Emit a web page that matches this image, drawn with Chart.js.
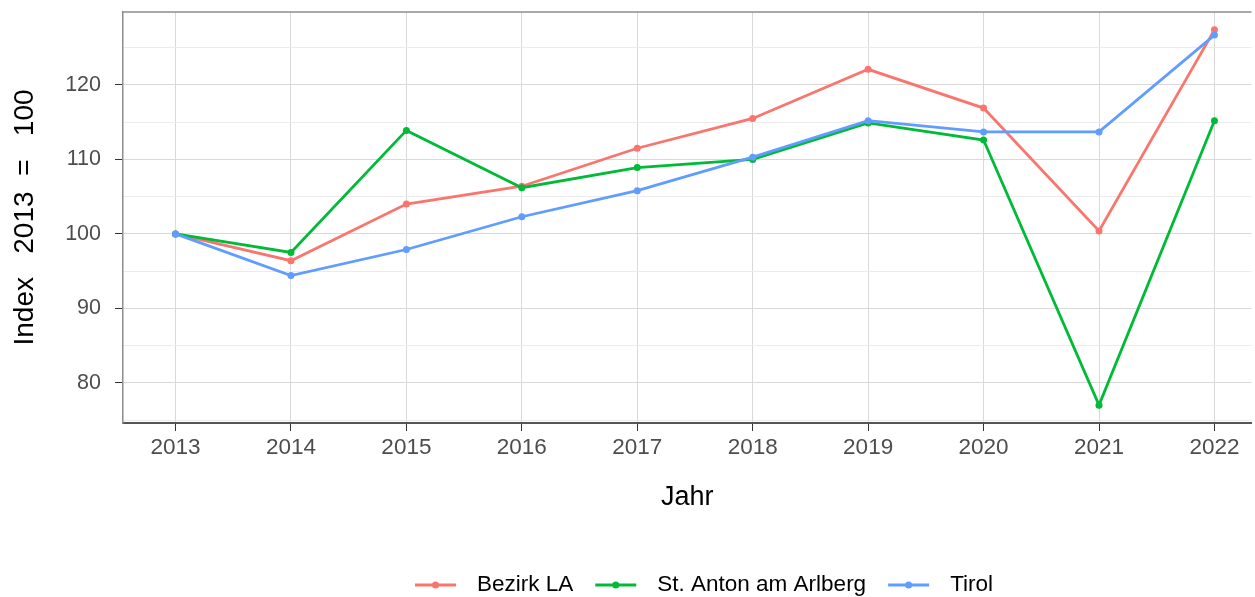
<!DOCTYPE html>
<html>
<head>
<meta charset="utf-8">
<script src="https://cdn.jsdelivr.net/npm/chart.js@4.4.1/dist/chart.umd.min.js"></script>
<style>
  html, body { margin: 0; padding: 0; background: #ffffff; overflow: hidden; }
  canvas { display: block; }
</style>
</head>
<body>
<canvas id="c" width="1255" height="597" style="width:1255px;height:597px"></canvas>
<script>
// ---- data ----
const years = [2013, 2014, 2015, 2016, 2017, 2018, 2019, 2020, 2021, 2022];
const seriesNames = ["Bezirk LA", "St. Anton am Arlberg", "Tirol"];
const bezirkLA = [100, 96.4, 104.0, 106.4, 111.5, 115.5, 122.1, 116.9, 100.4, 127.4];
const stAnton  = [100, 97.5, 113.9, 106.2, 108.9, 110.0, 114.9, 112.6, 77.0, 115.2];
const tirol    = [100, 94.4, 97.9, 102.3, 105.8, 110.3, 115.2, 113.7, 113.7, 126.7];
const yTickLabels = [80, 90, 100, 110, 120];
const xTitle = "Jahr";
const yTitle = "Index   2013  =   100";

const colors = ["#F8766D", "#00BA38", "#619CFF"];
const seriesValues = [bezirkLA, stAnton, tirol];

const datasets = seriesValues.map((vals, i) => ({
  label: seriesNames[i],
  data: years.map((yr, j) => ({ x: yr, y: vals[j] })),
  borderColor: colors[i],
  backgroundColor: colors[i],
  borderWidth: 2.8,
  pointRadius: 3.5,
  pointHoverRadius: 3.5,
  pointBorderWidth: 0,
  tension: 0,
  order: 2 - i
}));

const FONT = "'Liberation Sans', Arial, sans-serif";

function zeroPad(scale) {
  scale.paddingTop = 0;
  scale.paddingBottom = 0;
  scale.paddingLeft = 0;
  scale.paddingRight = 0;
}

const decorPlugin = {
  id: 'decor',
  afterDraw(chart) {
    const ctx = chart.ctx;
    const a = chart.chartArea;
    ctx.save();
    // top border of panel
    ctx.strokeStyle = '#8c8c8c';
    ctx.lineWidth = 1.5;
    ctx.beginPath();
    ctx.moveTo(a.left, a.top);
    ctx.lineTo(a.right, a.top);
    ctx.stroke();
    // legend
    const cy = 585;
    let x = 415;
    ctx.font = "22.5px " + FONT;
    ctx.textBaseline = 'middle';
    ctx.textAlign = 'left';
    chart.data.datasets.forEach((ds) => {
      ctx.strokeStyle = ds.borderColor;
      ctx.lineWidth = 2.8;
      ctx.beginPath();
      ctx.moveTo(x, cy);
      ctx.lineTo(x + 41, cy);
      ctx.stroke();
      ctx.fillStyle = ds.borderColor;
      ctx.beginPath();
      ctx.arc(x + 20.5, cy, 3.5, 0, Math.PI * 2);
      ctx.fill();
      ctx.fillStyle = '#000000';
      const tx = x + 62;
      ctx.fillText(ds.label, tx, cy);
      x = tx + ctx.measureText(ds.label).width + 22;
    });
    ctx.restore();
  }
};

new Chart(document.getElementById('c'), {
  type: 'line',
  data: { datasets },
  plugins: [decorPlugin],
  options: {
    responsive: false,
    maintainAspectRatio: false,
    devicePixelRatio: 1,
    animation: false,
    events: [],
    layout: { padding: { top: 12, left: 0, right: 0, bottom: 0 } },
    plugins: {
      legend: { display: false },
      tooltip: { enabled: false }
    },
    scales: {
      x: {
        type: 'linear',
        min: 2012.545,
        max: 2022.321,
        afterFit(scale) { scale.height = 174; zeroPad(scale); },
        ticks: {
          stepSize: 1,
          includeBounds: false,
          autoSkip: false,
          maxRotation: 0,
          padding: 3,
          color: '#4D4D4D',
          font: { family: FONT, size: 22.5 },
          callback: (v) => years.includes(v) ? String(v) : ''
        },
        grid: {
          color: '#d9d9d9',
          lineWidth: 1,
          tickLength: 8,
          tickColor: '#333333'
        },
        border: { display: true, color: '#555555', width: 2 },
        title: {
          display: true,
          text: xTitle,
          color: '#000000',
          font: { family: FONT, size: 27 },
          padding: { top: 0, bottom: 83 }
        }
      },
      y: {
        type: 'linear',
        min: 74.6,
        max: 129.8,
        afterFit(scale) { scale.width = 123; zeroPad(scale); },
        ticks: {
          stepSize: 5,
          includeBounds: false,
          autoSkip: false,
          padding: 14,
          color: '#4D4D4D',
          font: { family: FONT, size: 21.5 },
          callback: (v) => yTickLabels.includes(v) ? String(v) : ''
        },
        grid: {
          color: (c) => (c.tick && c.tick.value % 10 === 0) ? '#d9d9d9' : '#ebebeb',
          lineWidth: 1,
          tickLength: 8,
          tickColor: (c) => (c.tick && c.tick.value % 10 === 0) ? '#333333' : 'rgba(0,0,0,0)'
        },
        border: { display: true, color: '#8c8c8c', width: 1.5 },
        title: {
          display: true,
          text: yTitle,
          color: '#000000',
          font: { family: FONT, size: 28 },
          padding: { top: 8, bottom: 0 }
        }
      }
    }
  }
});
</script>
</body>
</html>
